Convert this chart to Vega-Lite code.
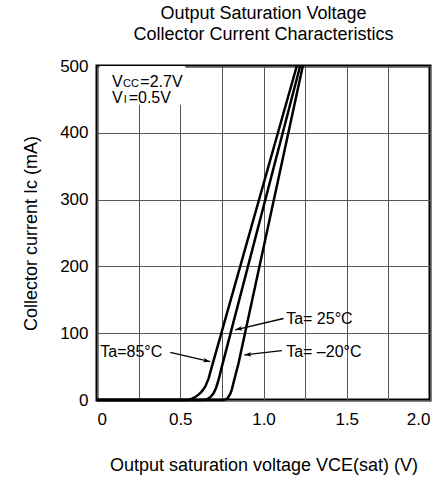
{
  "$schema": "https://vega.github.io/schema/vega-lite/v6.json",
  "width": 333,
  "height": 334,
  "autosize": {"type": "none"},
  "padding": {"left": 97, "top": 66, "right": 18, "bottom": 81},
  "background": "white",
  "config": {
    "font": "Liberation Sans",
    "view": {"stroke": "black", "strokeWidth": 3},
    "title": {"color": "black"}
  },
  "title": {
    "text": ["Output Saturation Voltage", "Collector Current Characteristics"],
    "fontSize": 18,
    "fontWeight": "normal",
    "lineHeight": 21,
    "offset": 13
  },
  "datasets": {
    "curves": [
      {"ta": "85", "v": 0, "i": 0}, {"ta": "85", "v": 0.53, "i": 0}, {"ta": "85", "v": 0.55, "i": 0.5},
      {"ta": "85", "v": 0.57, "i": 2}, {"ta": "85", "v": 0.59, "i": 4.5}, {"ta": "85", "v": 0.61, "i": 8},
      {"ta": "85", "v": 0.63, "i": 13}, {"ta": "85", "v": 0.65, "i": 20}, {"ta": "85", "v": 0.67, "i": 32},
      {"ta": "85", "v": 0.69, "i": 50}, {"ta": "85", "v": 1.2, "i": 500},
      {"ta": "25", "v": 0, "i": 0}, {"ta": "25", "v": 0.64, "i": 0}, {"ta": "25", "v": 0.66, "i": 1},
      {"ta": "25", "v": 0.68, "i": 4}, {"ta": "25", "v": 0.7, "i": 10}, {"ta": "25", "v": 0.715, "i": 18},
      {"ta": "25", "v": 0.73, "i": 30}, {"ta": "25", "v": 0.75, "i": 50}, {"ta": "25", "v": 1.22, "i": 500},
      {"ta": "-20", "v": 0, "i": 0}, {"ta": "-20", "v": 0.75, "i": 0}, {"ta": "-20", "v": 0.77, "i": 0.8},
      {"ta": "-20", "v": 0.785, "i": 3}, {"ta": "-20", "v": 0.8, "i": 9}, {"ta": "-20", "v": 0.81, "i": 16},
      {"ta": "-20", "v": 0.82, "i": 26}, {"ta": "-20", "v": 0.85, "i": 55}, {"ta": "-20", "v": 1.236, "i": 500}
    ],
    "arrows": [
      {"x": 0.44, "y": 71.4, "x2": 0.68, "y2": 57.4, "angle": 13},
      {"x": 1.12, "y": 122, "x2": 0.83, "y2": 105, "angle": 166.4},
      {"x": 1.11, "y": 74, "x2": 0.885, "y2": 67.4, "angle": 173.4}
    ],
    "labels": [
      {"t": "Ta=85°C", "x": 0.02, "y": 72},
      {"t": "Ta= 25°C", "x": 1.136, "y": 122},
      {"t": "Ta= –20°C", "x": 1.136, "y": 72},
      {"t": "V", "x": 0.09, "y": 476},
      {"t": "=2.7V", "x": 0.26, "y": 476},
      {"t": "V", "x": 0.09, "y": 452},
      {"t": "=0.5V", "x": 0.19, "y": 452}
    ],
    "small": [
      {"t": "CC", "x": 0.156, "y": 473},
      {"t": "I", "x": 0.16, "y": 449}
    ],
    "box": [{"x": 0.015, "x2": 0.53, "y": 442, "y2": 500}]
  },
  "layer": [
    {
      "data": {"name": "curves"},
      "mark": {"type": "line", "color": "black", "strokeWidth": 2.5},
      "encoding": {
        "x": {
          "field": "v", "type": "quantitative",
          "scale": {"domain": [0, 2], "nice": false, "zero": false},
          "axis": {
            "values": [0, 0.25, 0.5, 0.75, 1, 1.25, 1.5, 1.75, 2],
            "labelExpr": "datum.value == 0 ? '0' : ((datum.value * 2) % 1 == 0 ? format(datum.value, '.1f') : '')",
            "ticks": false, "domain": false,
            "grid": true, "gridColor": "#555", "gridWidth": 1, "gridOpacity": 1,
            "labelFontSize": 17, "labelColor": "black", "labelPadding": 11,
            "title": "Output saturation voltage  VCE(sat) (V)",
            "titleFontSize": 18, "titleFontWeight": "normal", "titleColor": "black", "titlePadding": 29
          }
        },
        "y": {
          "field": "i", "type": "quantitative",
          "scale": {"domain": [0, 500], "nice": false},
          "axis": {
            "values": [0, 50, 100, 150, 200, 250, 300, 350, 400, 450, 500],
            "labelExpr": "datum.value % 100 == 0 ? format(datum.value, 'd') : ''",
            "ticks": false, "domain": false,
            "grid": true, "gridColor": "#555", "gridWidth": 1, "gridOpacity": 1,
            "labelFontSize": 17, "labelColor": "black", "labelPadding": 9,
            "title": "Collector current  Ic (mA)",
            "titleFontSize": 18, "titleFontWeight": "normal", "titleColor": "black", "titlePadding": 19
          }
        },
        "detail": {"field": "ta", "type": "nominal"}
      }
    },
    {
      "data": {"name": "box"},
      "mark": {"type": "rect", "color": "white"},
      "encoding": {
        "x": {"field": "x", "type": "quantitative"},
        "x2": {"field": "x2"},
        "y": {"field": "y", "type": "quantitative"},
        "y2": {"field": "y2"}
      }
    },
    {
      "data": {"name": "arrows"},
      "mark": {"type": "rule", "color": "black", "strokeWidth": 1.3},
      "encoding": {
        "x": {"field": "x", "type": "quantitative"},
        "x2": {"field": "x2"},
        "y": {"field": "y", "type": "quantitative"},
        "y2": {"field": "y2"}
      }
    },
    {
      "data": {"name": "arrows"},
      "mark": {"type": "point", "filled": true, "color": "black", "opacity": 1, "size": 200, "shape": "M0,0L-1,-0.32L-0.75,0L-1,0.32Z"},
      "encoding": {
        "x": {"field": "x2", "type": "quantitative"},
        "y": {"field": "y2", "type": "quantitative"},
        "angle": {"field": "angle", "type": "quantitative", "scale": null}
      }
    },
    {
      "data": {"name": "labels"},
      "mark": {"type": "text", "align": "left", "baseline": "middle", "fontSize": 16, "color": "black"},
      "encoding": {
        "x": {"field": "x", "type": "quantitative"},
        "y": {"field": "y", "type": "quantitative"},
        "text": {"field": "t"}
      }
    },
    {
      "data": {"name": "small"},
      "mark": {"type": "text", "align": "left", "baseline": "middle", "fontSize": 11, "color": "black"},
      "encoding": {
        "x": {"field": "x", "type": "quantitative"},
        "y": {"field": "y", "type": "quantitative"},
        "text": {"field": "t"}
      }
    }
  ]
}
